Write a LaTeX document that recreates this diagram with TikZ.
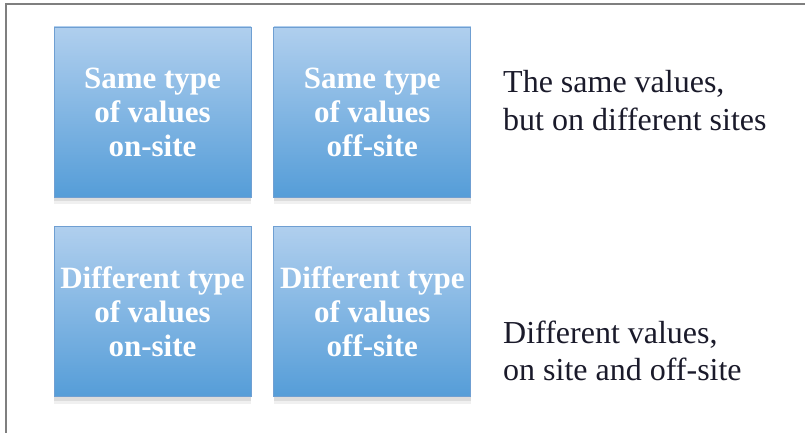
\documentclass[tikz,border=0pt]{standalone}
\usepackage{fontspec}
\setmainfont{Liberation Serif}
\usepackage{xcolor}
\usepackage{tikz}
\usetikzlibrary{positioning,shadows}
\definecolor{bluetop}{HTML}{B0CFEE}
\definecolor{bluebot}{HTML}{559DD8}
\definecolor{blueedge}{HTML}{6F9FD2}
\definecolor{framex}{HTML}{7F7F7F}
\definecolor{inkx}{HTML}{1A1A2A}
\tikzset{
  cell/.style={draw=blueedge,thick,top color=bluetop,bottom color=bluebot,minimum width=197pt,minimum height=170pt,inner sep=0pt,align=center,text=white,font=\fontsize{31}{34}\selectfont\bfseries,drop shadow={opacity=0.12,shadow xshift=0pt,shadow yshift=-7pt},drop shadow={opacity=0.18,shadow xshift=0pt,shadow yshift=-4pt}},
  note/.style={align=left,inner sep=0pt,text=inkx,font=\fontsize{32}{37}\selectfont},
  fr/.style={framex,line width=1.5pt}
}
\begin{document}
\begin{tikzpicture}[x=1pt,y=-1pt]
\useasboundingbox (0,0) rectangle (805,433);
\draw[fr] (6,433)--(6,4)--(805,4);
\node[cell] (sameon) at (152.5,112) {Same type\\of values\\on-site};
\node[cell,right=22pt of sameon] (sameoff) {Same type\\of values\\off-site};
\node[cell,below=29pt of sameon] (diffon) {Different type\\of values\\on-site};
\node[cell,right=22pt of diffon] (diffoff) {Different type\\of values\\off-site};
% base anchor sits on the last line
\node[note,anchor=base west] (samenote) at (503,130) {The same values,\\but on different sites};
\node[note,anchor=base west] (diffnote) at (503,380) {Different values,\\on site and off-site};
\end{tikzpicture}
\end{document}
